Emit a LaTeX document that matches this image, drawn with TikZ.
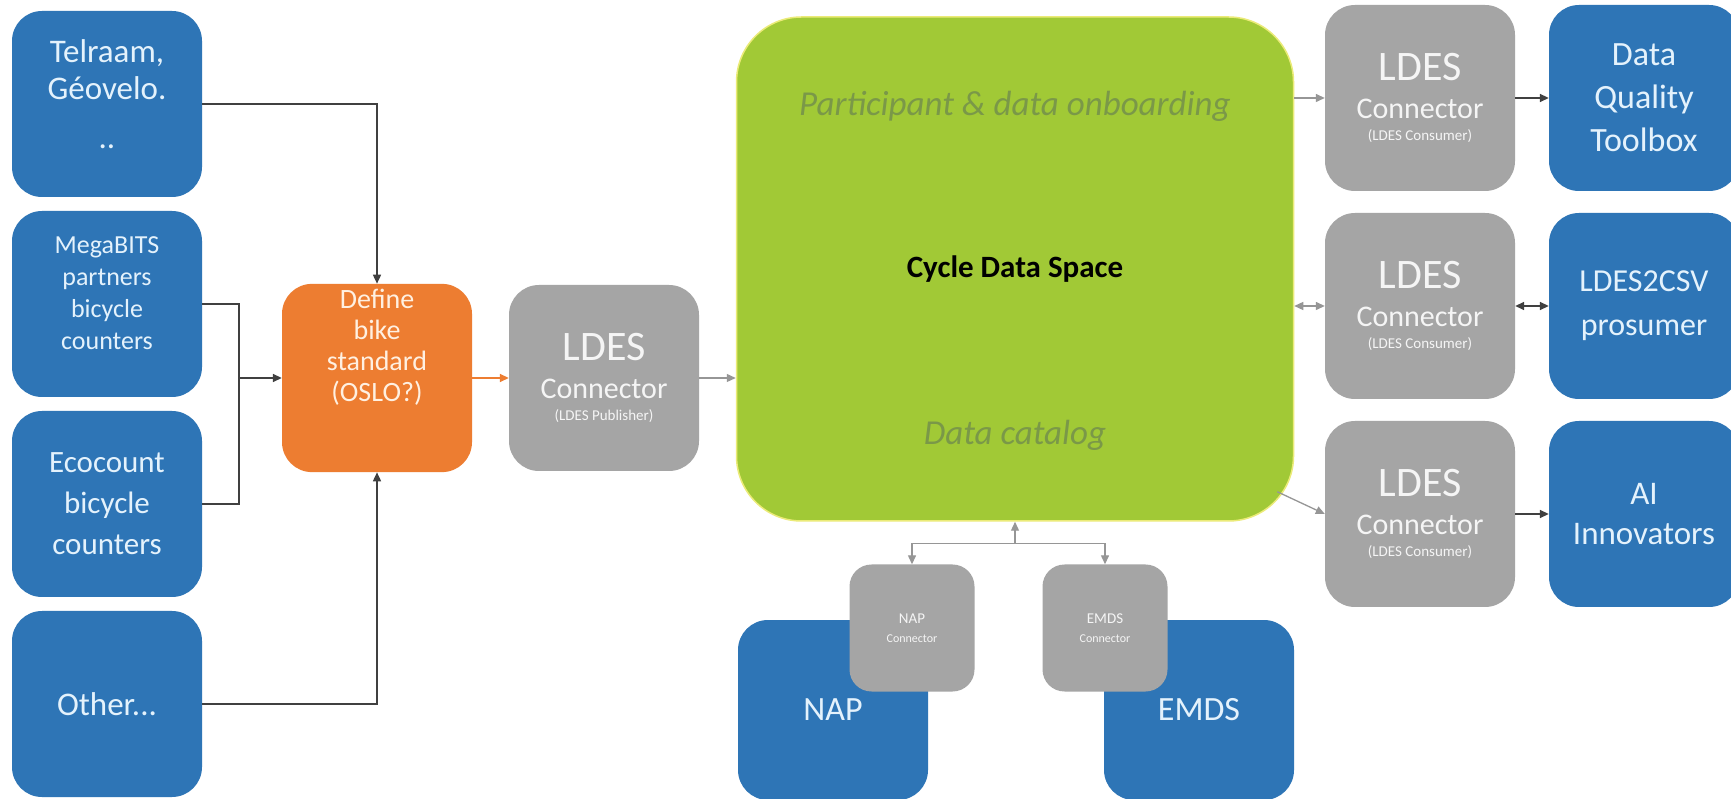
\documentclass[tikz,border=0pt]{standalone}
\usepackage{fontspec}
\setmainfont{Carlito}
\usetikzlibrary{positioning, arrows.meta}

\definecolor{bluebox}{RGB}{46,117,182}
\definecolor{bluetext}{RGB}{228,242,252}
\definecolor{orangebox}{RGB}{237,125,49}
\definecolor{orangetext}{RGB}{255,240,225}
\definecolor{graybox}{RGB}{165,165,165}
\definecolor{graytext}{RGB}{245,245,245}
\definecolor{greenbox}{RGB}{161,201,54}
\definecolor{greenedge}{RGB}{235,235,120}
\definecolor{greentextcol}{RGB}{122,152,72}
\definecolor{darkline}{RGB}{64,64,64}
\definecolor{grayline}{RGB}{150,150,150}

\newcommand{\ldesconn}[1]{{\fontsize{42}{40}\selectfont LDES\par}{\fontsize{30}{38}\selectfont Connector\par}{\fontsize{15}{22}\selectfont (#1)\par}}

\begin{document}
\begin{tikzpicture}[x=1pt, y=1pt, node distance=200pt, >={Triangle[length=9pt,width=8pt]},
  srcbox/.style={rectangle, rounded corners=30pt, minimum width=190pt, minimum height=186pt, text width=180pt, inner sep=5pt, align=flush center, fill=bluebox, text=bluetext, font=\fontsize{33}{37}\selectfont},
  stdbox/.style={srcbox, fill=orangebox, text=orangetext, minimum width=188pt, font=\fontsize{28}{31}\selectfont},
  connbox/.style={srcbox, fill=graybox, text=graytext, minimum width=189pt},
  smallconn/.style={connbox, minimum width=125pt, minimum height=127pt, text width=115pt, rounded corners=22pt},
  spacebox/.style={rectangle, rounded corners=65pt, minimum width=557pt, minimum height=504pt, fill=greenbox, draw=greenedge, line width=1.5pt, font=\fontsize{31}{34}\selectfont\bfseries},
  greentext/.style={font=\fontsize{35}{40}\selectfont\itshape, text=greentextcol},
  darkwire/.style={draw=darkline, line width=1.6pt},
  darkarrow/.style={darkwire, ->},
  grayarrow/.style={->, draw=grayline, line width=1.3pt},
  orangearrow/.style={->, draw=orangebox, line width=1.6pt}]

\fill[white] (0,0) rectangle (1731,798);
\useasboundingbox (0,0) rectangle (1731,798);

% data sources
\node (telraam) [srcbox] at (107,694) {Telraam,\\Géovelo.\\[12pt]..\par\kern20pt};
\node (megabits) [srcbox, below of=telraam, font=\fontsize{26}{32}\selectfont] {MegaBITS\\partners\\bicycle\\counters\par\kern22pt};
\node (ecocount) [srcbox, below of=megabits, font=\fontsize{31}{41}\selectfont] {Ecocount\\bicycle\\counters};
\node (other) [srcbox, below of=ecocount] {Other...};

\node (define) [stdbox] at (377,420) {Define\\bike\\standard\\(OSLO?)\par\kern62pt};
\node (ldespub) [connbox, node distance=227pt, right of=define] {\ldesconn{LDES Publisher}};

% data space
\node (cds) [spacebox] at (1015,529) {Cycle Data Space};
\node (onboard) [greentext] at ([yshift=-90pt]cds.north) {Participant \& data onboarding};
\node (catalog) [greentext] at ([yshift=86pt]cds.south) {Data catalog};

% consumers
\node (conA) [connbox] at (1420,700) {\ldesconn{LDES Consumer}};
\node (conB) [connbox, node distance=208pt, below of=conA] {\ldesconn{LDES Consumer}};
\node (conC) [connbox, node distance=208pt, below of=conB] {\ldesconn{LDES Consumer}};
\node (dqt) [srcbox, node distance=224pt, right of=conA, font=\fontsize{34}{43}\selectfont] {Data\\Quality\\Toolbox};
\node (csv) [srcbox, node distance=224pt, right of=conB, font=\fontsize{32}{44}\selectfont] {LDES2CSV\\prosumer};
\node (ai) [srcbox, node distance=224pt, right of=conC, font=\fontsize{33}{40}\selectfont] {AI\\Innovators};

% NAP and EMDS
\node (nap) [srcbox, minimum height=180pt, font=\fontsize{34}{40}\selectfont] at (833,88) {NAP};
\node (emds) [srcbox, node distance=366pt, right of=nap, minimum height=180pt, font=\fontsize{34}{40}\selectfont] {EMDS};
\node (napcon) [smallconn] at (912,170) {{\fontsize{15}{16}\selectfont NAP\par}{\fontsize{12}{19}\selectfont Connector\par}};
\node (emdscon) [smallconn, node distance=193pt, right of=napcon] {{\fontsize{15}{16}\selectfont EMDS\par}{\fontsize{12}{19}\selectfont Connector\par}};

\draw[darkarrow] (telraam) -| (define);
\draw[darkarrow] (other) -| (define);
\coordinate[left=43pt of define.west] (merge);
\draw[darkwire] (megabits) -| (merge);
\draw[darkwire] (ecocount) -| (merge);
\draw[darkarrow] (merge) -- (define);

\draw[orangearrow] (define) -- (ldespub);
\draw[grayarrow] (ldespub) -- (ldespub -| cds.west);

\draw[grayarrow] (cds.east |- conA) -- (conA);
\draw[grayarrow, <->] (cds.east |- conB) -- (conB);
\draw[grayarrow] ([xshift=-17pt, yshift=30pt]cds.south east) -- (conC.west);
\draw[darkarrow] (conA) -- (dqt);
\draw[darkarrow, <->] (conB) -- (csv);
\draw[darkarrow] (conC) -- (ai);

\coordinate[below=22pt of cds.south] (fork);
\draw[grayarrow] (fork) -- (cds.south);
\draw[grayarrow] (fork) -| (napcon);
\draw[grayarrow] (fork) -| (emdscon);

\end{tikzpicture}
\end{document}
